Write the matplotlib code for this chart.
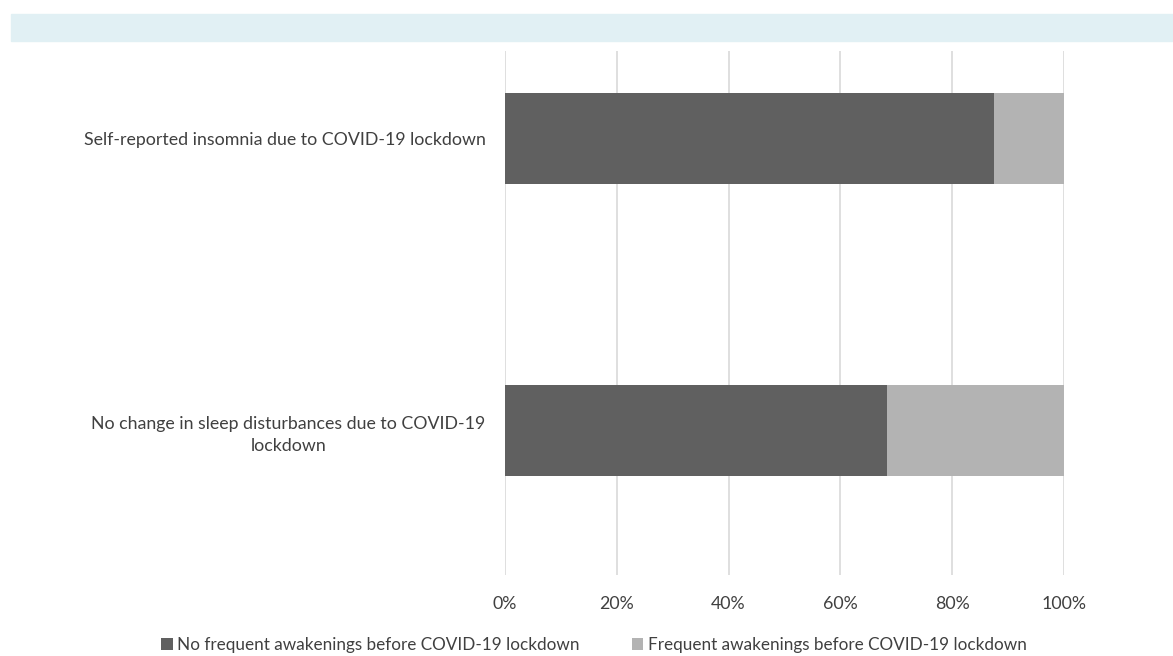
import matplotlib
matplotlib.use('Agg')
import matplotlib.pyplot as plt
from matplotlib.patches import Rectangle

plt.rcParams['font.family'] = ['Lato', 'DejaVu Sans']

# dades
categories = ['No change in sleep disturbances due to COVID-19\nlockdown',
              'Self-reported insomnia due to COVID-19 lockdown']
no_frequent = [68.4, 87.4]
frequent = [31.6, 12.6]
series_names = ['No frequent awakenings before COVID-19 lockdown',
                'Frequent awakenings before COVID-19 lockdown']
ticks = [0, 20, 40, 60, 80, 100]

W, H = 1173, 656
fig = plt.figure(figsize=(W / 100, H / 100), dpi=100)

# franja blava de dalt
fig.patches.append(Rectangle((11 / W, 1 - 41 / H), 1 - 11 / W, 27 / H,
                             transform=fig.transFigure, color='#e1f0f4', zorder=0))

ax = fig.add_axes([505 / W, 1 - 575 / H, (1064 - 505) / W, (575 - 51) / H])

pos = [0, 1]
ax.barh(pos, no_frequent, height=0.312, color='#606060', label=series_names[0], zorder=3)
ax.barh(pos, frequent, left=no_frequent, height=0.312, color='#b3b3b3', label=series_names[1], zorder=3)

ax.set_xlim(0, 100)
ax.set_ylim(-0.497, 1.300)
ax.set_xticks(ticks)
ax.set_xticklabels([str(t) + '%' for t in ticks])
ax.set_yticks(pos)
ax.set_yticklabels(categories, multialignment='center', linespacing=1.5)
ax.grid(axis='x', color='#d9d9d9', linewidth=1.2, zorder=0)
for s in ax.spines.values():
    s.set_visible(False)
ax.tick_params(axis='both', length=0, labelsize=12.8, labelcolor='#404040')
ax.tick_params(axis='x', pad=15)
ax.tick_params(axis='y', pad=14)

fig.legend(loc='center', bbox_to_anchor=(594 / W, 1 - 645 / H), ncol=2, frameon=False,
           handlelength=0.65, handleheight=0.65, handletextpad=0.25, columnspacing=3.1,
           fontsize=12.3, labelcolor='#404040')

plt.savefig('out.png', dpi=100)
